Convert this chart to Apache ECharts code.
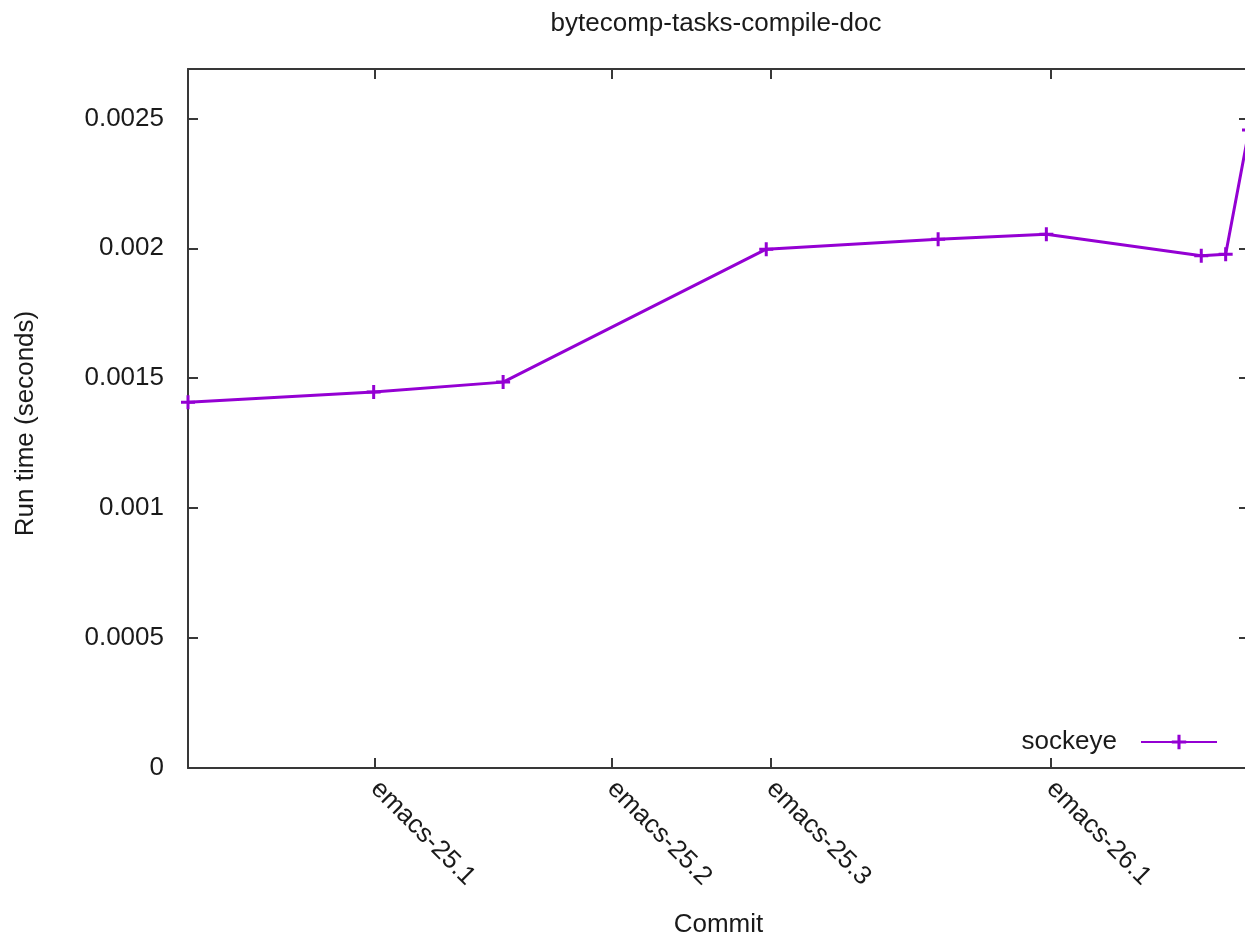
<!DOCTYPE html>
<html>
<head>
<meta charset="utf-8">
<script src="https://cdn.jsdelivr.net/npm/echarts@6/dist/echarts.min.js"></script>
<style>
html,body{margin:0;padding:0;background:#fff;}
#chart{width:1245px;height:942px;}
</style>
</head>
<body>
<div id="chart"></div>
<script>
// Commit position along the x axis (relative units) and run time in seconds
var commitPos = [0, 17.5, 29.7, 54.5, 70.7, 80.9, 95.5, 97.8, 100];
var runTime = [0.001408, 0.001447, 0.001485, 0.0019965, 0.002035, 0.002054, 0.001971, 0.001977, 0.002455];
var tickPos = [17.6, 39.9, 54.9, 81.3];
var tickLabels = ['emacs-25.1', 'emacs-25.2', 'emacs-25.3', 'emacs-26.1'];
var seriesName = 'sockeye';

var FONT = '"Liberation Sans", Arial, sans-serif';
var FS = 26;
var TXT = '#1a1a1a';
var AX = '#383838';
var PURPLE = '#9400D3';

var points = commitPos.map(function (x, i) { return [x, runTime[i]]; });
var plus = 'path://M5.5,0h3v5.5h5.5v3h-5.5v5.5h-3v-5.5h-5.5v-3h5.5z';

var chart = echarts.init(document.getElementById('chart'));
function axLine() { return { show: true, onZero: false, lineStyle: { color: AX, width: 2 } }; }
chart.setOption({
  animation: false,
  backgroundColor: '#fff',
  title: {
    text: 'bytecomp-tasks-compile-doc',
    left: 711, top: 6, textAlign: 'center',
    textStyle: { fontFamily: FONT, fontSize: FS, fontWeight: 'normal', color: TXT }
  },
  legend: {
    right: 27, top: 729, padding: 0,
    align: 'right',
    itemWidth: 76, itemHeight: 18,
    data: [seriesName],
    textStyle: { fontFamily: FONT, fontSize: FS, color: TXT, padding: [0, 19, 0, 0] }
  },
  grid: { left: 188, right: -4, top: 69, bottom: 174, containLabel: false, outerBoundsMode: 'none' },
  xAxis: [{
    type: 'value', position: 'bottom',
    min: 0, max: 100,
    name: 'Commit', nameLocation: 'middle', nameGap: 144,
    nameTextStyle: { fontFamily: FONT, fontSize: FS, color: TXT },
    axisLine: axLine(),
    splitLine: { show: false },
    axisTick: { show: true, inside: true, length: 10, customValues: tickPos, lineStyle: { color: AX, width: 2 } },
    axisLabel: {
      show: true, customValues: tickPos, rotate: -45, margin: 17,
      fontFamily: FONT, fontSize: FS, color: TXT,
      formatter: function (v) {
        for (var i = 0; i < tickPos.length; i++) { if (Math.abs(tickPos[i] - v) < 1e-6) return tickLabels[i]; }
        return '';
      }
    }
  }, {
    type: 'value', position: 'top',
    min: 0, max: 100,
    axisLine: axLine(),
    splitLine: { show: false },
    axisTick: { show: true, inside: true, length: 10, customValues: tickPos, lineStyle: { color: AX, width: 2 } },
    axisLabel: { show: false }
  }],
  yAxis: [{
    type: 'value', position: 'left',
    min: 0, max: 0.00269, interval: 0.0005,
    name: 'Run time (seconds)', nameLocation: 'middle', nameGap: 149, nameRotate: 90,
    nameTextStyle: { fontFamily: FONT, fontSize: FS, color: TXT, padding: [0, 10, 0, 0] },
    axisLine: axLine(),
    splitLine: { show: false },
    axisTick: { show: true, inside: true, length: 10, lineStyle: { color: AX, width: 2 } },
    axisLabel: {
      show: true, margin: 24, showMaxLabel: false,
      fontFamily: FONT, fontSize: FS, color: TXT,
      formatter: function (v) { return (Math.abs(v / 0.0005 - Math.round(v / 0.0005)) < 1e-6) ? String(+v.toFixed(4)) : ''; }
    }
  }, {
    type: 'value', position: 'right',
    min: 0, max: 0.00269, interval: 0.0005,
    axisLine: axLine(),
    splitLine: { show: false },
    axisTick: { show: true, inside: true, length: 10, lineStyle: { color: AX, width: 2 } },
    axisLabel: { show: false }
  }],
  series: [{
    name: seriesName,
    type: 'line',
    xAxisIndex: 0, yAxisIndex: 0,
    data: points,
    symbol: plus, symbolSize: 14, showAllSymbol: true,
    itemStyle: { color: PURPLE },
    lineStyle: { color: PURPLE, width: 3 },
    clip: true
  }]
});
</script>
</body>
</html>
